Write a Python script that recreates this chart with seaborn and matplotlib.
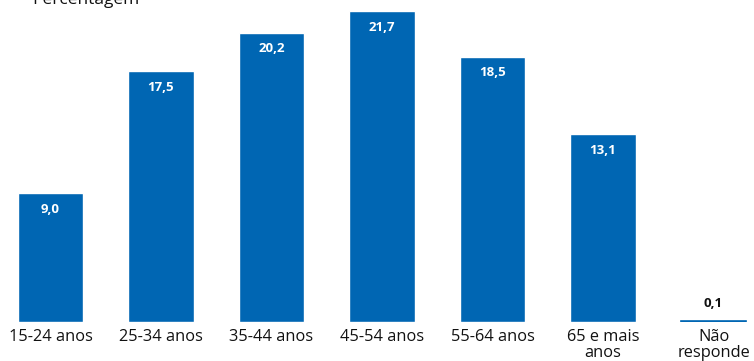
import matplotlib
matplotlib.use("Agg")
import matplotlib.pyplot as plt
import seaborn as sns
import pandas as pd

categories = ["15-24 anos", "25-34 anos", "35-44 anos", "45-54 anos",
              "55-64 anos", "65 e mais\nanos", "Não\nresponde"]
values = [9.0, 17.5, 20.2, 21.7, 18.5, 13.1, 0.1]
value_labels = ["9,0", "17,5", "20,2", "21,7", "18,5", "13,1", "0,1"]

sns.set_theme(style="white")
plt.rcParams['font.family'] = ['Open Sans', 'DejaVu Sans']

df = pd.DataFrame({"cat": categories, "val": values})

fig = plt.figure(figsize=(7.54, 3.61), dpi=100)
ax = fig.add_axes([0, 39/361, 1, 1 - 39/361])
sns.barplot(data=df, x="cat", y="val", color="#0066B3", saturation=1,
            width=0.59, ax=ax)
# make tiny bar visible as a thin line
for p, v in zip(ax.patches, values):
    if v < 1:
        p.set_edgecolor("#0066B3")
        p.set_linewidth(1.2)

ax.set_xlim(-50.5/110.5, (754-50.5)/110.5)
ax.set_ylim(0, 322/14.33)
for s in ax.spines.values():
    s.set_visible(False)
ax.set_yticks([])
ax.set_xlabel("")
ax.set_ylabel("")
ax.tick_params(axis="x", length=0, pad=5, labelsize=11.8, labelcolor="#111111")
ax.set_xticks(range(len(categories)))
ax.set_xticklabels(categories, linespacing=1.0)

for i, (v, lab) in enumerate(zip(values, value_labels)):
    if v > 2:
        ax.annotate(lab, (i, v), xytext=(0, -11.5), textcoords="offset points",
                    ha="center", va="center", color="white", fontsize=9.5,
                    fontweight="bold")
    else:
        ax.annotate(lab, (i, v), xytext=(0, 12), textcoords="offset points",
                    ha="center", va="center", color="#111111", fontsize=9.5,
                    fontweight="bold")

fig.text(32/754, 1 - 4/361, "Percentagem", ha="left", va="baseline",
         fontsize=12.5, color="#111111")

fig.savefig("out.png", dpi=100)
